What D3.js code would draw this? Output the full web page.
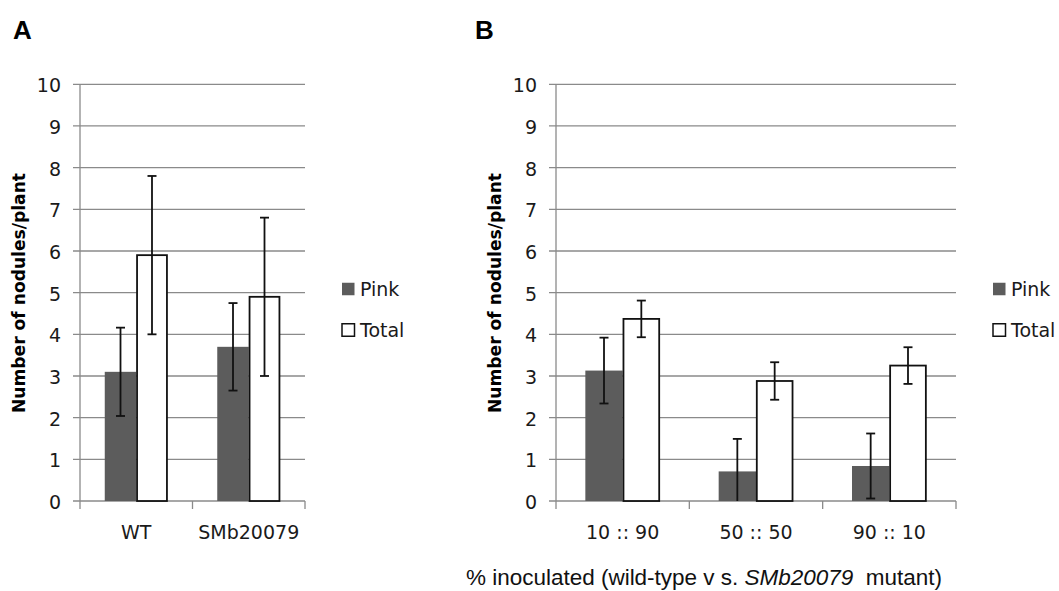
<!DOCTYPE html>
<html>
<head>
<meta charset="utf-8">
<script src="https://cdn.jsdelivr.net/npm/d3@7"></script>
<style>
  body { margin: 0; background: #fff; }
  svg { display: block; }
</style>
</head>
<body>
<div id="chart"></div>
<script>
// values (nodules per plant, mean and error bar half-width)
const y_ticks = [0, 1, 2, 3, 4, 5, 6, 7, 8, 9, 10];
const series_names = ["Pink", "Total"];

const a_categories = ["WT", "SMb20079"];
const a_pink = [3.1, 3.7];
const a_pink_err = [1.06, 1.05];
const a_total = [5.9, 4.9];
const a_total_err = [1.9, 1.9];

const b_categories = ["10 :: 90", "50 :: 50", "90 :: 10"];
const b_pink = [3.13, 0.71, 0.84];
const b_pink_err = [0.79, 0.78, 0.78];
const b_total = [4.37, 2.88, 3.25];
const b_total_err = [0.44, 0.45, 0.44];

const width = 1059;
const height = 591;

const settings = {
  y_top: 84.3,
  y_bottom: 501,
  grid_color: "#8a8a8a",
  pink_color: "#5c5c5c",
  tick_font: "'DejaVu Sans', Verdana, sans-serif",
  tick_size: 19,
  cap_half: 4.5,
};

const svg = d3
  .select("#chart")
  .append("svg")
  .attr("width", width)
  .attr("height", height);

const Y = d3
  .scaleLinear()
  .domain([0, 10])
  .range([settings.y_bottom, settings.y_top]);

const panels = [
  {
    letter: "A",
    letter_x: 13,
    x0: 80,
    w: 225,
    label_x: 20,
    legend_x: 342,
    categories: a_categories,
    pink: a_pink,
    pink_err: a_pink_err,
    total: a_total,
    total_err: a_total_err,
  },
  {
    letter: "B",
    letter_x: 475,
    x0: 556,
    w: 400,
    label_x: 496,
    legend_x: 993,
    categories: b_categories,
    pink: b_pink,
    pink_err: b_pink_err,
    total: b_total,
    total_err: b_total_err,
  },
];

panels.forEach((p) => svg.append("g").call(draw_panel, p, settings));

// x axis title under panel B
const x_title = svg
  .append("text")
  .attr("x", 466)
  .attr("y", 585)
  .attr("font-family", "'Liberation Sans', Arial, sans-serif")
  .attr("font-size", 22.5)
  .attr("fill", "#111")
  .attr("textLength", 476)
  .attr("lengthAdjust", "spacing");
x_title.append("tspan").text("% inoculated (wild-type v s. ");
x_title.append("tspan").attr("font-style", "italic").text("SMb20079");
x_title.append("tspan").text("\u00a0 mutant)");

function draw_panel(g, p, s) {
  const X = d3
    .scaleBand()
    .domain(p.categories)
    .range([p.x0, p.x0 + p.w]);
  const bw = X.bandwidth();
  const inner = d3
    .scaleBand()
    .domain(series_names)
    .range([0, bw])
    .paddingInner(0)
    .paddingOuter(0.786);

  // panel letter
  g.append("text")
    .attr("x", p.letter_x)
    .attr("y", 39)
    .attr("font-family", "'Liberation Sans', Arial, sans-serif")
    .attr("font-weight", "bold")
    .attr("font-size", 26)
    .text(p.letter);

  // gridlines, running through the little tick marks left of the axis
  g.append("g")
    .selectAll("line")
    .data(y_ticks)
    .join("line")
    .attr("x1", p.x0 - 7)
    .attr("x2", p.x0 + p.w)
    .attr("y1", (d) => Y(d))
    .attr("y2", (d) => Y(d))
    .attr("stroke", s.grid_color)
    .attr("stroke-width", 1.3);

  // y tick labels
  g.append("g")
    .attr("transform", `translate(${p.x0}, 0)`)
    .call(d3.axisLeft(Y).tickValues(y_ticks).tickSize(0).tickPadding(19))
    .call((ax) => ax.select(".domain").remove())
    .call((ax) =>
      ax
        .selectAll("text")
        .attr("font-family", s.tick_font)
        .attr("font-size", s.tick_size)
        .attr("fill", "#1a1a1a")
        .attr("dy", "0.4em")
    );

  // y axis line
  g.append("line")
    .attr("x1", p.x0)
    .attr("x2", p.x0)
    .attr("y1", s.y_top)
    .attr("y2", s.y_bottom + 8)
    .attr("stroke", s.grid_color)
    .attr("stroke-width", 1.3);

  // category boundary ticks on the x axis
  const edges = p.categories.map((c) => X(c)).concat([p.x0 + p.w]);
  g.append("g")
    .selectAll("line")
    .data(edges.slice(1))
    .join("line")
    .attr("x1", (d) => d)
    .attr("x2", (d) => d)
    .attr("y1", s.y_bottom)
    .attr("y2", s.y_bottom + 8)
    .attr("stroke", s.grid_color)
    .attr("stroke-width", 1.3);

  // category labels
  g.append("g")
    .selectAll("text")
    .data(p.categories)
    .join("text")
    .attr("x", (d) => X(d) + bw / 2)
    .attr("y", 539)
    .attr("text-anchor", "middle")
    .attr("font-family", s.tick_font)
    .attr("font-size", s.tick_size)
    .attr("fill", "#1a1a1a")
    .text((d) => d);

  // bars + error bars
  const rows = p.categories.map((c, i) => [
    { cat: c, series: "Pink", v: p.pink[i], e: p.pink_err[i] },
    { cat: c, series: "Total", v: p.total[i], e: p.total_err[i] },
  ]).flat();

  g.append("g")
    .selectAll("g.bar")
    .data(rows)
    .join("g")
    .classed("bar", true)
    .attr("transform", (d) => `translate(${X(d.cat) + inner(d.series)}, 0)`)
    .each(function (d) {
      const bar_g = d3.select(this);
      const w = inner.bandwidth();
      const is_pink = d.series === "Pink";

      bar_g
        .append("rect")
        .attr("x", is_pink ? 0 : 0.8)
        .attr("y", Y(d.v))
        .attr("width", is_pink ? w : w - 1.6)
        .attr("height", Y(0) - Y(d.v))
        .attr("fill", is_pink ? s.pink_color : "#fff")
        .attr("stroke", is_pink ? "none" : "#111")
        .attr("stroke-width", 1.8);

      const clipped = d.v - d.e <= 0;
      const lo = Y(Math.max(0, d.v - d.e));
      const hi = Y(d.v + d.e);
      const cx = w / 2;
      const err = bar_g.append("g").attr("stroke", "#111").attr("stroke-width", 1.8);
      err.append("line").attr("x1", cx).attr("x2", cx).attr("y1", lo).attr("y2", hi);
      (clipped ? [hi] : [lo, hi]).forEach((yy) => {
        err
          .append("line")
          .attr("x1", cx - s.cap_half)
          .attr("x2", cx + s.cap_half)
          .attr("y1", yy)
          .attr("y2", yy);
      });
    });

  // y axis title
  g.append("text")
    .attr("transform", `translate(${p.label_x}, 293) rotate(-90)`)
    .attr("text-anchor", "middle")
    .attr("dominant-baseline", "middle")
    .attr("font-family", "'DejaVu Sans', Tahoma, sans-serif")
    .attr("font-weight", "bold")
    .attr("font-size", 17)
    .attr("textLength", 240)
    .attr("lengthAdjust", "spacingAndGlyphs")
    .text("Number of nodules/plant");

  // legend
  const legend = g
    .append("g")
    .selectAll("g")
    .data(series_names)
    .join("g")
    .attr("transform", (d, i) => `translate(${p.legend_x}, ${289 + i * 41})`);

  legend
    .append("rect")
    .attr("x", 0)
    .attr("y", -6.25)
    .attr("width", 12.5)
    .attr("height", 12.5)
    .attr("fill", (d) => (d === "Pink" ? s.pink_color : "#fff"))
    .attr("stroke", (d) => (d === "Pink" ? "none" : "#111"))
    .attr("stroke-width", 1.5);

  legend
    .append("text")
    .attr("x", 18)
    .attr("y", 7)
    .attr("font-family", s.tick_font)
    .attr("font-size", s.tick_size)
    .attr("fill", "#1a1a1a")
    .text((d) => d);
}
</script>
</body>
</html>
